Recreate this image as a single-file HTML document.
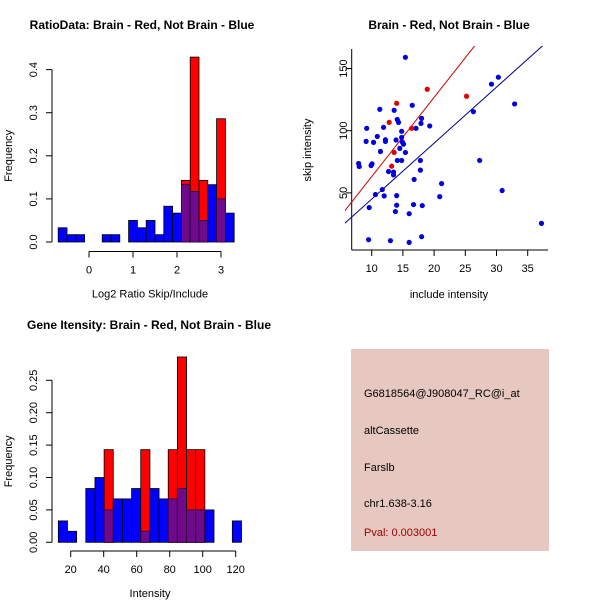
<!DOCTYPE html>
<html><head><meta charset="utf-8"><style>
html,body{margin:0;padding:0;background:#fff}
svg{display:block;font-family:"Liberation Sans",sans-serif}
</style></head><body>
<svg id="c" width="600" height="600" viewBox="0 0 600 600" xmlns="http://www.w3.org/2000/svg">
<defs><clipPath id="sc"><rect x="345" y="46" width="207" height="206"/></clipPath></defs>
<g id="g1"></g>
<g id="g2"></g>
<g id="g3"></g>
<g>
<rect x="351" y="349" width="198" height="202" fill="#e6c8c1"/>
<g font-size="11" fill="#000">
<text x="364" y="397">G6818564@J908047_RC@i_at</text>
<text x="364" y="434">altCassette</text>
<text x="364" y="471">Farslb</text>
<text x="364" y="507">chr1.638-3.16</text>
<text x="364" y="536" fill="#a00000">Pval: 0.003001</text>
</g></g>
</svg>
<script>
// Histogram 1 data
const h1Start = -0.7, h1Bin = 0.2;
const h1Blue = [0.033,0.017,0.017,0,0,0.017,0.017,0,0.05,0.033,0.05,0.017,0.083,0.067,0.133,0.117,0.05,0.133,0.1,0.067,0];
const h1Red  = [0,0,0,0,0,0,0,0,0,0,0,0,0,0,0.143,0.429,0.143,0,0.286,0,0];
const h1XTicks = [0,1,2,3];
const h1YTicks = [0.0,0.1,0.2,0.3,0.4];
const h1YLabels = ["0.0","0.1","0.2","0.3","0.4"];
// Histogram 2 data
const h2Start = 12.5, h2Bin = 5.55;
const h2Blue = [0.033,0.017,0,0.083,0.1,0.05,0.067,0.067,0.083,0.017,0.083,0.067,0.067,0.083,0.05,0.05,0.05,0,0,0.033];
const h2Red  = [0,0,0,0,0,0.143,0,0,0,0.143,0,0,0.143,0.286,0.143,0.143,0,0,0,0];
const h2XTicks = [20,40,60,80,100,120];
const h2YTicks = [0,0.05,0.10,0.15,0.20,0.25];
const h2YLabels = ["0.00","0.05","0.10","0.15","0.20","0.25"];
// Scatter data
const blueX = [15.4,7.9,8.0,9.2,9.1,9.6,9.5,9.9,10.05,10.3,10.6,10.9,11.3,11.4,11.7,11.9,12.0,12.2,12.2,12.7,13.0,13.5,13.5,13.6,13.9,14.0,14.0,13.8,14.1,14.3,14.1,14.5,14.8,14.8,14.9,15.1,14.8,15.4,16.0,16.0,16.5,16.7,16.8,17.1,17.9,18.0,17.8,17.8,18.1,18.0,19.3,20.9,21.2,26.3,27.3,29.2,30.3,30.9,32.9,37.2];
const blueY = [159,73.7,71.2,101.9,91.4,38.2,12.4,72,73.4,90.6,48.7,95.4,117.2,83.3,52.7,102.7,47.6,92.7,91.4,67.2,11.6,64.5,66.7,116.4,92.5,47.8,40.1,35,109,106.7,76.1,85.8,99.5,94.6,90.9,89.2,76.1,82.5,33.3,10.2,120.4,40.6,60.8,101.9,105.9,109.9,76.1,68.3,39.8,14.8,103.8,47.0,57.5,115.3,76.1,137.4,143,51.9,121.5,25.5];
const redX = [14.0,12.8,13.6,13.2,16.4,18.9,25.2];
const redY = [122,106.7,82.5,71.5,101.9,133.3,127.7];
const redFit = [-0.6, 6.37];
const blueFit = [0, 4.5];
const scXTicks = [10,15,20,25,30,35];
const scYTicks = [50,100,150];

const NS="http://www.w3.org/2000/svg";
function mk(p,t,a){const e=document.createElementNS(NS,t);for(const k in a)e.setAttribute(k,a[k]);p.appendChild(e);return e;}

function hist(g,start,bin,blue,red,xt,yt,yl,sx,sy,y0,xaxY,title,xlabel,titleY,titleX,nm){
  const X=v=>sx(v), Y=v=>sy(v);
  for(let i=0;i<blue.length;i++){
    const x0=X(start+i*bin), x1=X(start+(i+1)*bin), b=blue[i], r=red[i];
    if(r>0){
      const e=mk(g,'rect',{x:x0,y:Y(r),width:x1-x0,height:Y(0)-Y(r),fill:'#ff0000',stroke:'#000','stroke-width':0.8});
      
      
    }
    if(b>0){
      const e=mk(g,'rect',{x:x0,y:Y(b),width:x1-x0,height:Y(0)-Y(b),fill:'#0000ff',stroke:'#000','stroke-width':0.8});
      
      
    }
    const m=Math.min(b,r);
    if(m>0){
      const e=mk(g,'rect',{x:x0,y:Y(m),width:x1-x0,height:Y(0)-Y(m),fill:'#700a8c',stroke:'#300040','stroke-width':0.8});
      
      
    }
  }
  mk(g,'line',{x1:52,x2:52,y1:Y(yt[0]),y2:Y(yt[yt.length-1]),stroke:'#000'});
  yt.forEach((v,i)=>{
    mk(g,'line',{x1:46,x2:52,y1:Y(v),y2:Y(v),stroke:'#000'});
    const t=mk(g,'text',{x:37,y:Y(v),'font-size':11,'text-anchor':'middle',transform:`rotate(-90 37 ${Y(v)})`});
    t.textContent=yl[i];
    
    
  });
  mk(g,'line',{x1:X(xt[0]),x2:X(xt[xt.length-1]),y1:xaxY,y2:xaxY,stroke:'#000'});
  xt.forEach(v=>{
    mk(g,'line',{x1:X(v),x2:X(v),y1:xaxY,y2:xaxY+6,stroke:'#000'});
    const t=mk(g,'text',{x:X(v),y:xaxY+22,'font-size':11,'text-anchor':'middle'});
    t.textContent=v;
    
    
  });
  const my=(Y(yt[0])+Y(yt[yt.length-1]))/2;
  const yl2=mk(g,'text',{x:12,y:my,'font-size':11,'text-anchor':'middle',transform:`rotate(-90 12 ${my})`});
  yl2.textContent='Frequency';
  
  
  const xl=mk(g,'text',{x:150,y:xaxY+46,'font-size':11,'text-anchor':'middle'});
  xl.textContent=xlabel;
  
  
  const tt=mk(g,'text',{x:titleX,y:titleY,'font-size':12,'font-weight':'bold','text-anchor':'middle'});
  tt.textContent=title;
  
  
}
hist(document.getElementById('g1'),h1Start,h1Bin,h1Blue,h1Red,h1XTicks,h1YTicks,h1YLabels,
  v=>89+v*44, v=>242-v*431, 0, 251.5,'RatioData: Brain - Red, Not Brain - Blue','Log2 Ratio Skip/Include',29,142,'ratio');
hist(document.getElementById('g3'),h2Start,h2Bin,h2Blue,h2Red,h2XTicks,h2YTicks,h2YLabels,
  v=>70.7+(v-20)*1.65, v=>542.3-v*648, 0, 551,'Gene Itensity: Brain - Red, Not Brain - Blue','Intensity',329,149,'intensity');

const g2=document.getElementById('g2');
const sx=v=>371.7+(v-10)*6.24, sy=v=>130.7-(v-100)*1.244;
mk(g2,'line',{x1:351.7,x2:351.7,y1:49,y2:250,stroke:'#000'});
mk(g2,'line',{x1:351.7,x2:548,y1:250,y2:250,stroke:'#000'});
scYTicks.forEach(v=>{
  mk(g2,'line',{x1:345.7,x2:351.7,y1:sy(v),y2:sy(v),stroke:'#000'});
  const t=mk(g2,'text',{x:347,y:sy(v),'font-size':11,'text-anchor':'middle',transform:`rotate(-90 347 ${sy(v)})`});
  t.textContent=v;
  
  
});
scXTicks.forEach(v=>{
  mk(g2,'line',{x1:sx(v),x2:sx(v),y1:250,y2:256,stroke:'#000'});
  const t=mk(g2,'text',{x:sx(v),y:272,'font-size':11,'text-anchor':'middle'});
  t.textContent=v;
  
  
});
const cl=mk(g2,'g',{'clip-path':'url(#sc)'});
[[redFit,'#cc0000','red-fit-line'],[blueFit,'#00008b','blue-fit-line']].forEach(([f,c,n])=>{
  const l=mk(cl,'line',{x1:sx(5),y1:sy(f[0]+f[1]*5),x2:sx(40),y2:sy(f[0]+f[1]*40),stroke:c,'stroke-width':1});
  
  
});
blueX.forEach((v,i)=>{
  const c=mk(g2,'circle',{cx:sx(v),cy:sy(blueY[i]),r:2.6,fill:'#0000e0'});
  
  
});
redX.forEach((v,i)=>{
  const c=mk(g2,'circle',{cx:sx(v),cy:sy(redY[i]),r:2.6,fill:'#e00000'});
  
  
});
let t=mk(g2,'text',{x:449,y:298,'font-size':11,'text-anchor':'middle'});t.textContent='include intensity';


t=mk(g2,'text',{x:311,y:150,'font-size':11,'text-anchor':'middle',transform:'rotate(-90 311 150)'});t.textContent='skip intensity';


t=mk(g2,'text',{x:449,y:29,'font-size':12,'font-weight':'bold','text-anchor':'middle'});t.textContent='Brain - Red, Not Brain - Blue';


</script>
</body></html>
